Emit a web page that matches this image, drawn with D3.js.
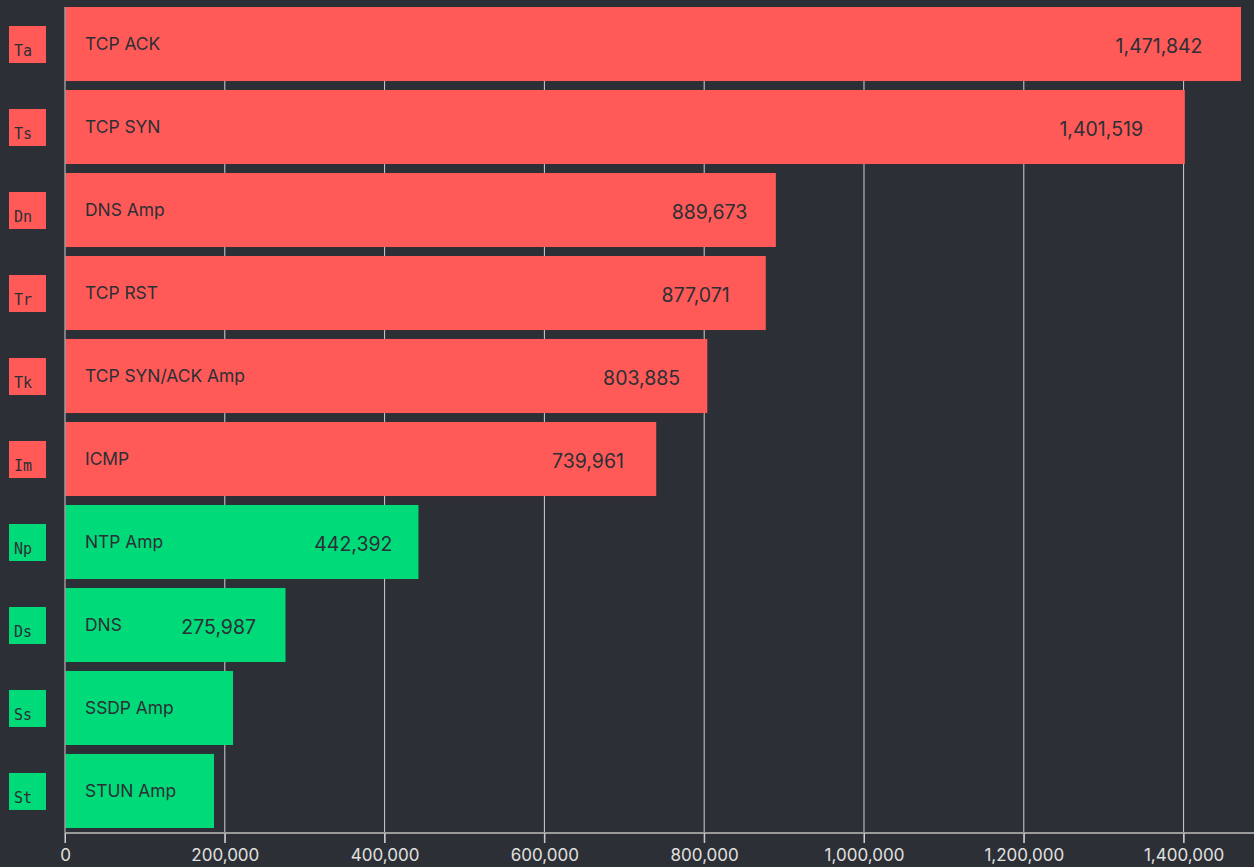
<!DOCTYPE html>
<html>
<head>
<meta charset="utf-8">
<script src="https://cdn.jsdelivr.net/npm/d3@7"></script>
<style>
html,body{margin:0;padding:0;background:#2c2f35;}
svg{display:block;}
</style>
</head>
<body>
<svg id="chart" width="1254" height="867"></svg>
<script>
const categories = ["TCP ACK","TCP SYN","DNS Amp","TCP RST","TCP SYN/ACK Amp","ICMP","NTP Amp","DNS","SSDP Amp","STUN Amp"];
const codes = ["Ta","Ts","Dn","Tr","Tk","Im","Np","Ds","Ss","St"];
const values = [1471842,1401519,889673,877071,803885,739961,442392,275987,210300,186500];
const showValue = [true,true,true,true,true,true,true,true,false,false];
const groups = ["red","red","red","red","red","red","green","green","green","green"];
const tickValues = [0,200000,400000,600000,800000,1000000,1200000,1400000];

const colors = {red:"#ff5a58", green:"#00da78"};
const svg = d3.select("#chart");
const fmt = d3.format(",");

const x = d3.scaleLinear().domain([0, d3.max(values)]).range([65, 1241]);
const y = d3.scaleBand().domain(categories).range([7, 828]).paddingInner(0.108).paddingOuter(0);

// grid lines
svg.append("g").selectAll("line").data(tickValues.slice(1)).join("line")
  .attr("x1", d => x(d)).attr("x2", d => x(d))
  .attr("y1", 7).attr("y2", 843)
  .attr("stroke", "#d0d0d0").attr("stroke-width", 1);

// bars
const data = categories.map((c,i)=>({c, code:codes[i], v:values[i], g:groups[i], show:showValue[i]}));
svg.append("g").selectAll("rect").data(data).join("rect")
  .attr("x", x(0)).attr("y", d => y(d.c))
  .attr("width", d => x(d.v) - x(0)).attr("height", y.bandwidth())
  .attr("fill", d => colors[d.g]);

// category labels
svg.append("g").selectAll("text").data(data).join("text")
  .attr("x", x(0) + 20).attr("y", d => y(d.c) + y.bandwidth()/2 + 6)
  .attr("font-family", "Inter, 'Noto Sans', sans-serif").attr("font-size", 17.4)
  .attr("fill", "#2c2f35").text(d => d.c);

// value labels (placed using an estimated width from the character count)
svg.append("g").selectAll("text").data(data.filter(d=>d.show)).join("text")
  .attr("x", d => x(d.v) - 30 - fmt(d.v).length * 10.6)
  .attr("y", d => y(d.c) + y.bandwidth()/2 + 9)
  .attr("text-anchor", "start")
  .attr("font-family", "Inter, 'Noto Sans', sans-serif").attr("font-size", 19.5)
  .attr("fill", "#2c2f35").text(d => fmt(d.v));

// badges
const badges = svg.append("g").selectAll("g").data(data).join("g")
  .attr("transform", d => `translate(9, ${y(d.c) + y.bandwidth()/2 - 18})`);
badges.append("rect").attr("width", 37).attr("height", 37).attr("fill", d => colors[d.g]);
badges.append("text").attr("x", 5).attr("y", 30)
  .attr("font-family", "'DejaVu Sans Mono', monospace").attr("font-size", 15)
  .attr("fill", "#2c2f35").text(d => d.code);

// y axis line at 0
svg.append("line").attr("x1", x(0)).attr("x2", x(0)).attr("y1", 7).attr("y2", 843)
  .attr("stroke", "#9a9a9a").attr("stroke-width", 1.5);

// x axis
const xAxis = d3.axisBottom(x).tickValues(tickValues).tickFormat(fmt).tickSize(10).tickPadding(6);
const ax = svg.append("g").attr("transform", "translate(0,833)").call(xAxis);
ax.select(".domain").attr("stroke", "#9a9a9a").attr("stroke-width", 2).attr("d", `M${x(0)},0H1254`);
ax.selectAll(".tick line").attr("stroke", "#d0d0d0");
ax.selectAll(".tick text").attr("fill", "#e0e0e0").attr("font-size", 17)
  .attr("font-family", "Inter, 'Noto Sans', sans-serif");
</script>
</body>
</html>
